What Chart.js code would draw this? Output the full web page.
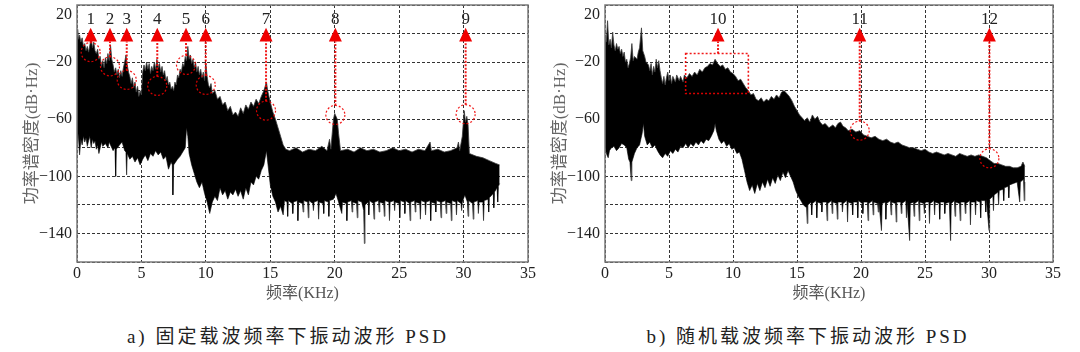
<!DOCTYPE html>
<html>
<head>
<meta charset="utf-8">
<script src="https://cdn.jsdelivr.net/npm/chart.js@4.4.0/dist/chart.umd.min.js"></script>
<style>
body { margin: 0; background: #fff; width: 1080px; height: 352px; position: relative; overflow: hidden; }
.box { position: absolute; top: 0; width: 540px; height: 310px; }
.cap { position: absolute; top: 321px; font: 19px 'Liberation Serif', 'Noto Sans CJK SC', serif; letter-spacing: 3px; color: #222; white-space: nowrap; transform: translateX(-50%); }
</style>
</head>
<body>
<div class="box" style="left:0"><canvas id="psdA" width="540" height="310"></canvas></div>
<div class="box" style="left:540px"><canvas id="psdB" width="540" height="310"></canvas></div>
<div class="cap" style="left:288px">a) 固定载波频率下振动波形 PSD</div>
<div class="cap" style="left:808px">b) 随机载波频率下振动波形 PSD</div>
<script>
// PSD data: [kHz, dB] pairs, upper and lower edge of the noise band

// panel a) fixed carrier
const upperA = [[0,-2],[0.05,3],[0.12,-4],[0.2,-1],[0.3,-6],[0.4,-3],[0.5,-9],[0.6,-7],[0.7,-12],[0.8,-9],[0.9,-13],[1.0,-8],[1.1,-3],[1.2,-10],[1.3,-6],[1.4,-12],[1.5,-14],[1.6,-11],[1.7,-18],[1.8,-16],[1.9,-23],[2.0,-19],[2.1,-24],[2.2,-17],[2.3,-21],[2.4,-14],[2.5,-19],[2.6,-8],[2.7,-18],[2.8,-22],[2.9,-27],[3.0,-24],[3.1,-29],[3.2,-25],[3.3,-31],[3.4,-26],[3.5,-30],[3.6,-24],[3.7,-20],[3.8,-15],[3.9,-22],[4.0,-27],[4.1,-30],[4.2,-35],[4.3,-31],[4.4,-38],[4.5,-34],[4.6,-41],[4.7,-37],[4.8,-44],[4.9,-40],[5.0,-43],[5.1,-27],[5.2,-22],[5.3,-26],[5.4,-20],[5.5,-25],[5.6,-21],[5.7,-28],[5.8,-23],[5.9,-26],[6.0,-20],[6.1,-25],[6.2,-18],[6.3,-24],[6.4,-21],[6.5,-27],[6.6,-23],[6.7,-29],[6.8,-26],[6.9,-33],[7.0,-30],[7.1,-36],[7.2,-34],[7.3,-39],[7.4,-37],[7.5,-40],[7.6,-34],[7.7,-36],[7.8,-29],[7.9,-31],[8.0,-25],[8.1,-27],[8.2,-21],[8.3,-23],[8.4,-16],[8.5,-19],[8.6,-9],[8.7,-18],[8.8,-15],[8.9,-21],[9.0,-18],[9.1,-24],[9.2,-20],[9.3,-27],[9.4,-23],[9.5,-29],[9.6,-25],[9.7,-31],[9.8,-27],[9.9,-33],[10.0,-21],[10.1,-30],[10.2,-36],[10.3,-38],[10.4,-35],[10.5,-42],[10.7,-40],[10.9,-46],[11.1,-44],[11.3,-50],[11.5,-48],[11.7,-54],[11.9,-51],[12.1,-57],[12.3,-55],[12.5,-58],[12.7,-52],[12.9,-56],[13.1,-50],[13.3,-53],[13.5,-48],[13.7,-51],[13.9,-46],[14.1,-49],[14.3,-44],[14.5,-40],[14.6,-37],[14.7,-34],[14.8,-40],[14.9,-44],[15.0,-48],[15.2,-55],[15.4,-60],[15.6,-66],[15.8,-72],[16.0,-78],[16.2,-81],[16.5,-82],[17.0,-80],[17.5,-83],[18.0,-81],[18.5,-82],[19.0,-79],[19.4,-82],[19.6,-74],[19.7,-81],[19.9,-60],[20.0,-56],[20.1,-58],[20.2,-60],[20.3,-70],[20.45,-82],[21.0,-81],[21.5,-83],[22.0,-80],[22.5,-82],[23.0,-81],[23.5,-83],[24.0,-82],[24.5,-80],[25.0,-82],[25.5,-81],[26.0,-83],[26.5,-81],[27.0,-82],[27.4,-76],[27.5,-82],[28.0,-81],[28.5,-83],[29.0,-82],[29.5,-80],[29.6,-76],[29.7,-82],[29.9,-72],[30.0,-60],[30.05,-54],[30.15,-62],[30.25,-58],[30.35,-64],[30.45,-84],[31.0,-86],[31.5,-87],[32.0,-89],[32.5,-91],[32.8,-92]];
const lowerA = [[0,-80],[0.1,-70],[0.2,-85],[0.3,-74],[0.4,-78],[0.5,-72],[0.6,-76],[0.7,-73],[0.8,-79],[0.9,-75],[1.0,-72],[1.1,-80],[1.2,-74],[1.3,-77],[1.4,-75],[1.5,-81],[1.6,-78],[1.7,-84],[1.8,-80],[1.9,-76],[2.0,-79],[2.2,-77],[2.4,-80],[2.5,-76],[2.6,-78],[2.8,-82],[2.95,-80],[3.0,-100],[3.05,-81],[3.3,-78],[3.5,-76],[3.7,-82],[3.8,-83],[3.85,-99],[3.9,-84],[4.1,-88],[4.3,-86],[4.5,-90],[4.7,-87],[4.9,-92],[5.1,-88],[5.3,-85],[5.5,-89],[5.7,-84],[5.9,-86],[6.1,-82],[6.3,-85],[6.5,-83],[6.7,-88],[6.9,-86],[7.1,-95],[7.3,-90],[7.4,-92],[7.45,-113],[7.5,-92],[7.8,-88],[8.0,-86],[8.2,-83],[8.4,-80],[8.5,-66],[8.6,-72],[8.7,-84],[8.9,-92],[9.1,-98],[9.3,-104],[9.5,-108],[9.7,-104],[9.9,-112],[10.1,-118],[10.3,-126],[10.5,-118],[10.7,-114],[10.9,-117],[11.1,-108],[11.3,-113],[11.5,-110],[11.7,-116],[11.9,-111],[12.1,-113],[12.3,-109],[12.5,-114],[12.7,-110],[12.9,-116],[13.1,-108],[13.3,-113],[13.5,-104],[13.7,-106],[13.9,-100],[14.1,-102],[14.3,-96],[14.5,-92],[14.7,-82],[14.8,-90],[14.9,-98],[15.0,-106],[15.2,-114],[15.4,-118],[15.6,-125],[15.8,-121],[16.0,-127],[16.1,-117],[16.3,-118],[16.35,-128],[16.4,-117],[16.7,-119],[16.75,-126],[16.8,-118],[17.1,-117],[17.15,-131],[17.2,-118],[17.5,-119],[17.55,-125],[17.6,-117],[17.9,-118],[17.95,-129],[18.0,-117],[18.3,-119],[18.35,-124],[18.4,-118],[18.7,-117],[18.75,-130],[18.8,-118],[19.1,-119],[19.15,-126],[19.2,-117],[19.5,-118],[19.55,-128],[19.6,-117],[19.9,-116],[20.1,-112],[20.3,-118],[20.55,-126],[20.6,-118],[20.9,-119],[20.95,-131],[21.0,-118],[21.3,-117],[21.35,-125],[21.4,-118],[21.7,-119],[21.75,-129],[21.8,-117],[22.1,-118],[22.25,-124],[22.3,-147],[22.35,-120],[22.6,-118],[22.65,-127],[22.7,-117],[23.0,-119],[23.05,-130],[23.1,-118],[23.4,-117],[23.45,-125],[23.5,-118],[23.8,-119],[23.85,-128],[23.9,-117],[24.2,-118],[24.25,-131],[24.3,-118],[24.6,-117],[24.65,-124],[24.7,-118],[25.0,-119],[25.05,-129],[25.1,-117],[25.4,-118],[25.45,-126],[25.5,-117],[25.8,-119],[25.85,-131],[25.9,-118],[26.2,-117],[26.25,-125],[26.3,-118],[26.6,-119],[26.65,-130],[26.7,-117],[27.0,-118],[27.05,-127],[27.1,-118],[27.4,-117],[27.45,-131],[27.5,-118],[27.8,-119],[27.85,-125],[27.9,-117],[28.2,-118],[28.25,-129],[28.3,-118],[28.6,-117],[28.65,-126],[28.7,-118],[29.0,-119],[29.05,-131],[29.1,-117],[29.4,-118],[29.45,-127],[29.5,-117],[29.8,-119],[29.85,-124],[29.9,-118],[30.1,-113],[30.3,-118],[30.35,-128],[30.4,-117],[30.7,-119],[30.75,-130],[30.8,-118],[31.1,-117],[31.15,-126],[31.2,-118],[31.5,-118],[31.55,-131],[31.6,-117],[31.9,-116],[31.95,-125],[32.0,-115],[32.3,-112],[32.35,-122],[32.4,-111],[32.6,-108],[32.65,-118],[32.7,-107],[32.8,-105]];

// panel b) random carrier
const upperB = [[0,-2],[0.1,-6],[0.2,9],[0.3,-8],[0.4,-4],[0.5,-10],[0.6,1],[0.7,-8],[0.8,-12],[0.9,-7],[1.0,-11],[1.1,-9],[1.2,-14],[1.3,-11],[1.4,-16],[1.5,-13],[1.6,-20],[1.7,-18],[1.8,-24],[1.9,-21],[2.0,-17],[2.1,-7],[2.2,-19],[2.3,-16],[2.5,-18],[2.6,-13],[2.7,-10],[2.85,4],[2.95,-12],[3.1,-16],[3.2,-20],[3.4,-22],[3.5,-26],[3.6,-21],[3.7,-29],[3.8,-23],[3.9,-27],[4.0,-18],[4.1,-24],[4.2,-19],[4.3,-26],[4.4,-31],[4.5,-35],[4.6,-30],[4.7,-36],[4.8,-31],[4.9,-27],[5.0,-33],[5.1,-29],[5.2,-35],[5.3,-30],[5.5,-34],[5.6,-29],[5.8,-33],[5.9,-30],[6.1,-34],[6.2,-29],[6.4,-31],[6.6,-28],[6.8,-30],[7.0,-27],[7.2,-29],[7.4,-25],[7.6,-27],[7.8,-24],[8.0,-23],[8.2,-21],[8.4,-22],[8.6,-18],[8.8,-21],[9.0,-23],[9.2,-22],[9.4,-25],[9.6,-24],[9.8,-27],[10.0,-28],[10.2,-30],[10.4,-33],[10.6,-32],[10.8,-35],[11.0,-38],[11.2,-40],[11.4,-43],[11.6,-42],[11.8,-46],[12.0,-47],[12.2,-45],[12.4,-48],[12.6,-46],[12.8,-47],[13.0,-44],[13.2,-46],[13.4,-43],[13.6,-45],[13.8,-41],[14.0,-40],[14.2,-42],[14.4,-44],[14.6,-47],[14.8,-51],[15.0,-54],[15.2,-57],[15.4,-59],[15.6,-61],[15.8,-59],[16.0,-62],[16.2,-57],[16.4,-60],[16.6,-58],[16.8,-62],[17.0,-64],[17.2,-63],[17.5,-66],[17.8,-64],[18.0,-66],[18.2,-63],[18.4,-62],[18.6,-65],[18.8,-66],[19.0,-68],[19.3,-67],[19.6,-69],[19.9,-68],[20.2,-71],[20.5,-72],[20.8,-73],[21.1,-72],[21.4,-74],[21.7,-75],[22.0,-74],[22.3,-76],[22.6,-77],[22.9,-76],[23.2,-78],[23.5,-79],[23.8,-80],[24.1,-80],[24.4,-81],[24.7,-82],[25.0,-81],[25.3,-83],[25.6,-84],[25.9,-83],[26.2,-84],[26.5,-85],[26.8,-84],[27.1,-85],[27.4,-86],[27.7,-84],[28.0,-85],[28.3,-86],[28.6,-85],[28.9,-86],[29.2,-85],[29.5,-86],[29.8,-87],[30.1,-89],[30.4,-91],[30.7,-91],[31.0,-92],[31.3,-93],[31.6,-93],[31.9,-94],[32.2,-94],[32.5,-93],[32.65,-90],[32.8,-93]];
const lowerB = [[0,-80],[0.15,-85],[0.25,-87],[0.35,-82],[0.5,-80],[0.7,-79],[0.9,-82],[1.1,-80],[1.3,-77],[1.5,-78],[1.7,-80],[1.85,-88],[1.95,-90],[2.05,-103],[2.1,-90],[2.3,-84],[2.5,-80],[2.7,-78],[2.9,-70],[3.0,-63],[3.1,-72],[3.3,-78],[3.5,-76],[3.7,-80],[3.9,-78],[4.1,-82],[4.3,-85],[4.5,-87],[4.7,-84],[4.9,-86],[5.1,-82],[5.3,-84],[5.5,-81],[5.7,-83],[5.9,-79],[6.1,-80],[6.3,-77],[6.5,-80],[6.7,-77],[6.9,-79],[7.1,-76],[7.3,-78],[7.5,-75],[7.7,-77],[7.9,-74],[8.1,-75],[8.3,-72],[8.5,-68],[8.6,-63],[8.7,-68],[8.9,-74],[9.1,-77],[9.3,-75],[9.5,-79],[9.7,-77],[9.9,-81],[10.1,-80],[10.3,-84],[10.5,-83],[10.7,-88],[10.9,-96],[11.1,-104],[11.3,-110],[11.5,-106],[11.7,-112],[11.9,-105],[12.1,-110],[12.3,-104],[12.5,-108],[12.7,-102],[12.9,-107],[13.1,-101],[13.3,-105],[13.5,-99],[13.7,-103],[13.9,-97],[14.1,-101],[14.3,-96],[14.5,-100],[14.7,-104],[14.9,-110],[15.1,-114],[15.3,-117],[15.5,-120],[15.75,-122],[15.8,-133],[15.85,-120],[16.1,-118],[16.15,-127],[16.2,-119],[16.5,-117],[16.55,-129],[16.6,-118],[16.9,-119],[16.95,-125],[17.0,-118],[17.3,-118],[17.35,-131],[17.4,-119],[17.7,-117],[17.75,-126],[17.8,-118],[18.1,-119],[18.15,-130],[18.2,-118],[18.5,-118],[18.55,-125],[18.6,-119],[18.9,-117],[18.95,-132],[19.0,-118],[19.3,-119],[19.35,-127],[19.4,-118],[19.7,-118],[19.75,-129],[19.8,-117],[20.1,-119],[20.15,-126],[20.2,-118],[20.5,-118],[20.55,-131],[20.6,-119],[20.9,-117],[20.95,-127],[21.0,-118],[21.3,-119],[21.35,-125],[21.4,-118],[21.6,-138],[21.65,-119],[21.9,-118],[21.95,-130],[22.0,-119],[22.3,-117],[22.35,-127],[22.4,-118],[22.7,-119],[22.75,-132],[22.8,-118],[23.1,-118],[23.15,-126],[23.2,-119],[23.5,-117],[23.55,-129],[23.6,-118],[23.8,-145],[23.85,-119],[24.1,-118],[24.15,-128],[24.2,-119],[24.5,-117],[24.55,-131],[24.6,-118],[24.9,-119],[24.95,-126],[25.0,-118],[25.3,-118],[25.35,-133],[25.4,-119],[25.7,-117],[25.75,-127],[25.8,-118],[26.1,-119],[26.15,-130],[26.2,-118],[26.5,-118],[26.55,-126],[26.6,-119],[26.9,-118],[27.0,-145],[27.05,-119],[27.3,-117],[27.35,-128],[27.4,-118],[27.7,-119],[27.75,-131],[27.8,-118],[28.1,-118],[28.15,-126],[28.2,-119],[28.5,-117],[28.55,-134],[28.6,-118],[28.9,-118],[28.95,-127],[29.0,-117],[29.3,-118],[29.35,-129],[29.4,-117],[29.7,-117],[29.75,-125],[29.8,-116],[30.0,-138],[30.05,-116],[30.3,-114],[30.35,-124],[30.4,-113],[30.7,-111],[30.75,-120],[30.8,-110],[31.1,-109],[31.15,-117],[31.2,-108],[31.5,-107],[31.55,-115],[31.6,-106],[31.9,-105],[32.2,-104],[32.4,-118],[32.45,-104],[32.7,-102],[32.75,-117],[32.8,-104]];

// marked peaks: number, frequency (kHz), level of the circle (dB)
const marksA = ['1','2','3','4','5','6','7','8','9'];
const marksAKHz = [1.06, 2.56, 3.86, 6.23, 8.46, 9.99, 14.67, 20.05, 30.16];
const marksADb = [-13, -23, -32.5, -36.7, -22, -36, -54, -57, -56.5];
const marksB = ['10','11','12'];
const marksBKHz = [8.83, 19.9, 30.03];
const marksBDb = [-14, -68, -87.4];
// dashed box around mark 10: kHz range and dB range
const boxBKHz = [6.3, 11.2];
const boxBDb = [-14, -42];

const yTickLabels = [20, -20, -60, -100, -140];

const SERIF = "'Liberation Serif', 'Noto Sans CJK SC', serif";
const RED = 'rgba(240,0,0,0.9)';

const marker = {
    id: 'marker',
    afterDatasetsDraw(chart, args, o) {
        const {ctx, scales: {x, y}} = chart;
        const tipY = y.getPixelForValue(4);
        const baseY = y.getPixelForValue(-5.5);
        const textY = y.getPixelForValue(9.5);
        const r = 9.5;
        ctx.save();
        if (o.box) {
            const x0 = x.getPixelForValue(o.box.kHz[0]), x1 = x.getPixelForValue(o.box.kHz[1]);
            const y0 = y.getPixelForValue(o.box.db[0]), y1 = y.getPixelForValue(o.box.db[1]);
            ctx.strokeStyle = RED;
            ctx.lineWidth = 1.6;
            ctx.setLineDash([2, 2]);
            ctx.strokeRect(x0, y0, x1 - x0, y1 - y0);
        }
        o.labels.forEach((lab, i) => {
            const px = x.getPixelForValue(o.kHz[i]);
            const py = y.getPixelForValue(o.db[i]);
            let from = py;
            ctx.strokeStyle = RED;
            if (!(o.box && i === 0)) {
                ctx.lineWidth = 1.2;
                ctx.setLineDash([2, 2]);
                ctx.beginPath();
                ctx.arc(px, py, r, 0, Math.PI * 2);
                ctx.stroke();
                from = py - r;
            }
            // dotted stem
            ctx.lineWidth = 2;
            ctx.setLineDash([2, 1.5]);
            ctx.beginPath();
            ctx.moveTo(px, from);
            ctx.lineTo(px, baseY);
            ctx.stroke();
            // arrow head
            ctx.setLineDash([]);
            ctx.fillStyle = 'rgb(240,0,0)';
            ctx.beginPath();
            ctx.moveTo(px, tipY);
            ctx.lineTo(px - 6.5, baseY);
            ctx.lineTo(px + 6.5, baseY);
            ctx.closePath();
            ctx.fill();
            ctx.fillStyle = '#222';
            ctx.font = '17px ' + SERIF;
            ctx.textAlign = 'center';
            ctx.textBaseline = 'middle';
            ctx.fillText(lab, px, textY);
        });
        ctx.restore();
    },
    afterDraw(chart) {
        const {ctx, chartArea: a} = chart;
        ctx.save();
        ctx.strokeStyle = '#7a7a7a';
        ctx.lineWidth = 1.5;
        ctx.strokeRect(a.left, a.top, a.right - a.left, a.bottom - a.top);
        ctx.restore();
    }
};

function toPts(arr) {
    return arr.map(p => ({x: p[0], y: p[1]}));
}

function makeChart(id, upper, lower, marks, yWidth, padRight, titlePad) {
    const ctx = document.getElementById(id).getContext('2d');
    return new Chart(ctx, {
        type: 'line',
        data: {
            datasets: [{
                data: toPts(upper),
                borderColor: '#3a3a3a',
                borderWidth: 0.8,
                backgroundColor: '#000',
                fill: '+1',
                pointRadius: 0,
                tension: 0
            }, {
                data: toPts(lower),
                borderColor: '#3a3a3a',
                borderWidth: 0.8,
                fill: false,
                pointRadius: 0,
                tension: 0
            }]
        },
        options: {
            responsive: false,
            animation: false,
            devicePixelRatio: 1,
            layout: {padding: {top: 5, right: padRight, bottom: 0, left: 0}},
            plugins: {
                legend: {display: false},
                tooltip: {enabled: false},
                marker: marks
            },
            scales: {
                x: {
                    type: 'linear', min: 0, max: 35,
                    ticks: {stepSize: 5, color: '#222', padding: 2, maxRotation: 0, autoSkip: false,
                        font: {family: SERIF, size: 16}},
                    grid: {color: '#333', lineWidth: 1, drawTicks: false},
                    border: {display: false, dash: [3, 2]},
                    title: {display: true, text: '频率(KHz)', color: '#555',
                        font: {family: SERIF, size: 16}, padding: {top: 0, bottom: 7}},
                    afterFit(s) { s.height = 48; s.paddingLeft = 0; s.paddingRight = 0; }
                },
                y: {
                    type: 'linear', min: -160, max: 20,
                    ticks: {
                        stepSize: 20, autoSkip: false, padding: 5, color: '#222',
                        font: {family: SERIF, size: 16},
                        callback: v => {
                            if (!yTickLabels.includes(v)) return '';
                            if (v === 20) return ['', '20'];
                            return v < 0 ? '\u2212' + Math.abs(v) : String(v);
                        }
                    },
                    grid: {color: '#333', lineWidth: 1, drawTicks: false},
                    border: {display: false, dash: [3, 2]},
                    title: {display: true, text: '功率谱密度(dB·Hz)', color: '#666',
                        font: {family: SERIF, size: 17}, padding: {top: titlePad, bottom: 0}},
                    afterFit(s) { s.width = yWidth; s.paddingTop = 0; s.paddingBottom = 0; }
                }
            }
        },
        plugins: [marker]
    });
}

makeChart('psdA', upperA, lowerA,
    {labels: marksA, kHz: marksAKHz, db: marksADb}, 77, 12, 22);
makeChart('psdB', upperB, lowerB,
    {labels: marksB, kHz: marksBKHz, db: marksBDb, box: {kHz: boxBKHz, db: boxBDb}}, 65, 27, 10);
</script>
</body>
</html>
